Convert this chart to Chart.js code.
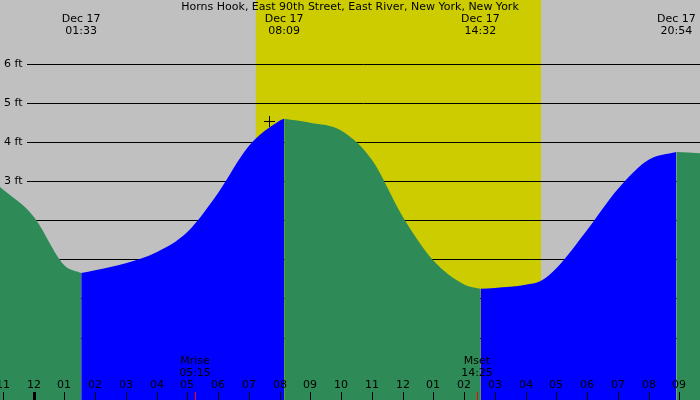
<!DOCTYPE html><html><head><script src="https://cdn.jsdelivr.net/npm/chart.js"></script>
<style>html,body{margin:0;padding:0;background:#c0c0c0}#w{width:700px;height:400px}</style></head><body><div id="w"><canvas id="c"></canvas></div>
<script>
const title="Horns Hook, East 90th Street, East River, New York, New York";
const hours=[-1.09,0,1,1.55,2,3,4,5,6,7,8,8.15,9,10,11,12,13,14,14.53,15,16,16.5,17,18,19,20,20.9,21.67];
const heights=[2.85,2.1,0.85,0.65,0.72,0.9,1.18,1.7,2.7,3.9,4.55,4.6,4.5,4.3,3.55,2.1,0.97,0.36,0.25,0.27,0.35,0.45,0.77,1.75,2.8,3.55,3.75,3.72];
const extremes=[{h:1.55,label:"01:33"},{h:8.15,label:"08:09"},{h:14.53,label:"14:32"},{h:20.9,label:"20:54"}];
const dayStart=7.23, dayEnd=16.5;
const moon=[{h:5.25,name:"Mrise",t:"05:15"},{h:14.42,name:"Mset",t:"14:25"}];
const yTicks=[-1,0,1,2,3,4,5,6];
const hourTicks=[-1,0,1,2,3,4,5,6,7,8,9,10,11,12,13,14,15,16,17,18,19,20,21];
const pts=hours.map((h,i)=>({x:h,y:heights[i]}));
function seg(a,b){return pts.map(p=>({x:p.x,y:(p.x>=a&&p.x<=b)?p.y:null}));}
const blue1=seg(1.55,8.15), blue2=seg(14.53,20.9);
const green=pts.map(p=>({x:p.x,y:(p.x<=1.55||(p.x>=8.15&&p.x<=14.53)||p.x>=20.9)?p.y:null}));
const FONT='11px "DejaVu Sans"';
const plug={id:'p',
beforeDatasetsDraw(c){const x=c.scales.x,y=c.scales.y,g=c.ctx;g.save();
 g.fillStyle='#c0c0c0';g.fillRect(0,0,700,400);
 g.fillStyle='#cccc00';g.fillRect(x.getPixelForValue(dayStart),0,x.getPixelForValue(dayEnd)-x.getPixelForValue(dayStart),400);
 g.strokeStyle='#000';g.lineWidth=1;g.fillStyle='#000';g.font=FONT;g.textBaseline='middle';g.textAlign='left';
 yTicks.forEach(t=>{const py=Math.round(y.getPixelForValue(t))+0.5;g.beginPath();g.moveTo(27,py);g.lineTo(700,py);g.stroke();g.fillText(t+' ft',4,py);});
 g.restore();},
afterDraw(c){const x=c.scales.x,y=c.scales.y,g=c.ctx;g.save();g.fillStyle='#000';g.font=FONT;g.textAlign='center';g.textBaseline='middle';
 g.fillText(title,350,7);
 extremes.forEach(e=>{let px=x.getPixelForValue(e.h);px=Math.min(px,677);g.fillText('Dec 17',px,19);g.fillText(e.label,px,31);});
 hourTicks.forEach(h=>{const px=Math.round(x.getPixelForValue(h));let l=((h%12)+12)%12;if(l===0)l=12;g.fillText(String(l).padStart(2,'0'),px,385);
  g.fillStyle='#000';g.fillRect(px-(h===0?1:0),392,h===0?3:1,8);});
 moon.forEach(m=>{const px=x.getPixelForValue(m.h);g.fillText(m.name,px,361);g.fillText(m.t,px,373);g.fillStyle='#f00';g.fillRect(Math.round(px),392,1,8);g.fillStyle='#000';});
 const cx=269,cy=121;g.fillRect(cx-5,cy,11,1);g.fillRect(cx,cy-5,1,11);
 g.restore();}};
const ds=(d,col)=>({data:d,borderWidth:0,pointRadius:0,fill:'start',backgroundColor:col,spanGaps:false,tension:0.4,cubicInterpolationMode:'monotone'});
new Chart(document.getElementById('c'),{type:'line',data:{datasets:[ds(green,'#2e8b57'),ds(blue1,'#0000ff'),ds(blue2,'#0000ff')]},
options:{responsive:true,maintainAspectRatio:false,animation:false,layout:{padding:0},
plugins:{legend:{display:false},tooltip:{enabled:false}},
scales:{x:{type:'linear',min:-1.09,max:21.67,display:false},y:{min:-2.6,max:7.64,display:false}}},plugins:[plug]});
</script></body></html>
